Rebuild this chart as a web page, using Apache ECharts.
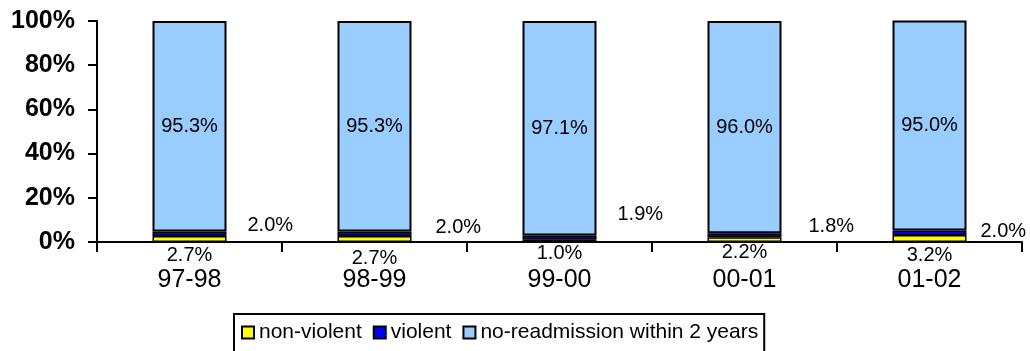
<!DOCTYPE html>
<html><head><meta charset="utf-8">
<script src="https://cdn.jsdelivr.net/npm/echarts@6/dist/echarts.min.js"></script>
<style>html,body{margin:0;padding:0;background:#fff}#c{width:1030px;height:351px}</style>
</head><body><div id="c"></div>
<script>
const categories = ['97-98', '98-99', '99-00', '00-01', '01-02'];
const nonViolent = [2.7, 2.7, 1.0, 2.2, 3.2];
const violent = [2.0, 2.0, 1.9, 1.8, 2.0];
const noReadmission = [95.3, 95.3, 97.1, 96.0, 95.0];
const yTicks = [0, 20, 40, 60, 80, 100];
// label nudges (style only)
const violentLabelOffsets = [[16, -8], [19, -6], [16, -23], [22, -9], [9, -1]];
const nonViolentLabelOffsets = [[0, 0], [0, 3], [0, -2], [0, -3], [0, 0]];

const FONT = 'Liberation Sans, Arial, sans-serif';
const chart = echarts.init(document.getElementById('c'), null, {renderer: 'canvas'});
const fmt = p => p.value.toFixed(1) + '%';

chart.setOption({
  animation: false,
  textStyle: {fontFamily: FONT},
  grid: {left: 97, right: 8, top: 21, bottom: 109, containLabel: false},
  legend: {
    top: 314, left: 234,
    data: ['non-violent', 'violent', 'no-readmission within 2 years'],
    icon: 'rect', itemWidth: 12, itemHeight: 12, itemGap: 11,
    borderColor: '#000', borderWidth: 2, padding: [8, 6, 14, 7],
    textStyle: {fontFamily: FONT, fontSize: 21, color: '#000'},
    itemStyle: {borderColor: '#000', borderWidth: 2}
  },
  xAxis: {
    type: 'category', data: categories,
    axisLine: {lineStyle: {color: '#000', width: 2}},
    axisTick: {show: true, length: 10, lineStyle: {color: '#000', width: 2}, alignWithLabel: false},
    axisLabel: {fontFamily: FONT, fontSize: 25, color: '#000', margin: 26}
  },
  yAxis: {
    type: 'value', min: yTicks[0], max: yTicks[yTicks.length - 1], interval: 20,
    axisLine: {show: true, lineStyle: {color: '#000', width: 2}},
    axisTick: {show: true, length: 9, lineStyle: {color: '#000', width: 2}},
    splitLine: {show: false},
    axisLabel: {fontFamily: FONT, fontSize: 25, fontWeight: 'bold', color: '#000', margin: 22, formatter: '{value}%'}
  },
  series: [
    {
      name: 'non-violent', type: 'bar', stack: 'a', barWidth: 74,
      itemStyle: {color: '#FFFF00', borderColor: '#000', borderWidth: 1.5},
      data: nonViolent.map((v, i) => ({value: v, label: {offset: nonViolentLabelOffsets[i]}})),
      label: {show: true, position: 'bottom', distance: 3, formatter: fmt, fontFamily: FONT, fontSize: 20, color: '#000'}
    },
    {
      name: 'violent', type: 'bar', stack: 'a', barWidth: 74,
      itemStyle: {color: '#0000FF', borderColor: '#000', borderWidth: 1.5},
      data: violent.map((v, i) => ({value: v, label: {offset: violentLabelOffsets[i]}})),
      label: {show: true, position: 'right', distance: 5, formatter: fmt, fontFamily: FONT, fontSize: 20, color: '#000'}
    },
    {
      name: 'no-readmission within 2 years', type: 'bar', stack: 'a', barWidth: 74,
      itemStyle: {color: '#99CCFF', borderColor: '#000', borderWidth: 2},
      data: noReadmission,
      label: {show: true, position: 'inside', formatter: fmt, fontFamily: FONT, fontSize: 20, color: '#000'}
    }
  ]
});
</script>
</body></html>
